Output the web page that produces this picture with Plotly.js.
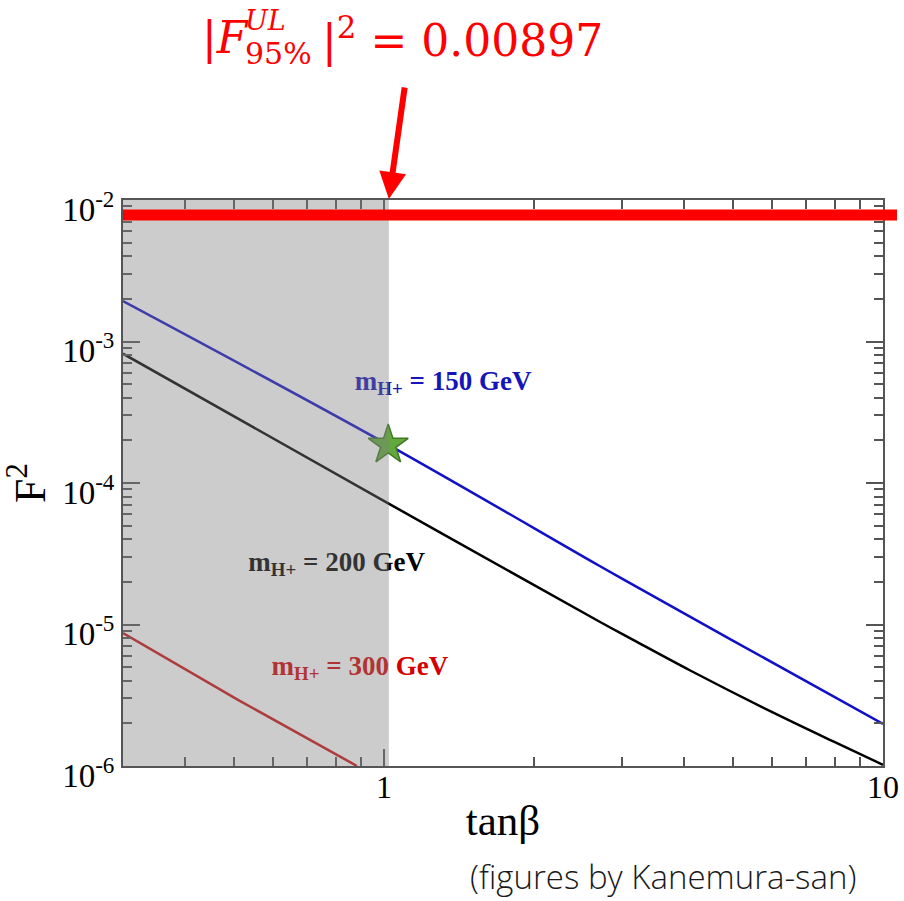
<!DOCTYPE html>
<html>
<head>
<meta charset="utf-8">
<script src="https://cdn.plot.ly/plotly-3.0.1.min.js"></script>
<style>
html,body{margin:0;padding:0;background:#fff;}
#chart{width:904px;height:901px;}
</style>
</head>
<body>
<div id="chart"></div>
<script>
// ---- data ----
const tanbBlue  = [0.3, 1.02, 2.7, 3.25, 5.0, 10];
const F2Blue    = [1.93e-3, 1.86e-4, 2.6e-5, 1.8e-5, 7.7e-6, 1.98e-6];

const tanbBlack = [0.3, 0.977, 2.7, 3.15, 4.1, 6.0, 7.95, 10];
const F2Black   = [8.2e-4, 7.82e-5, 1.05e-5, 7.82e-6, 4.75e-6, 2.40e-6, 1.49e-6, 1.02e-6];

const tanbRed   = [0.3, 0.511, 0.883];
const F2Red     = [8.7e-6, 2.92e-6, 1.0e-6];

const starTanb  = [1.02];
const starF2    = [1.86e-4];

const limitF2   = 0.00783;   // drawn position of the thick red line
const shadeFrom = 0.3;
const shadeTo   = 1.023;

const seriesNames = ["m<sub>H+</sub> = 150 GeV", "m<sub>H+</sub> = 200 GeV", "m<sub>H+</sub> = 300 GeV"];

const xTickVals = [1, 10];
const xTickText = ["1", "10"];
const yTickVals = [1e-6, 1e-5, 1e-4, 1e-3, 1e-2];
const yTickText = ["10<sup>-6</sup>", "10<sup>-5</sup>", "10<sup>-4</sup>", "10<sup>-3</sup>", "10<sup>-2</sup>"];

const xRange = [0.3, 10];
const yRange = [1e-6, 1e-2];

// ---- label placement (layout, not data) ----
const labelPos = [
  {x: 1.314, y: 5.09e-4, color: '#1515b8'},
  {x: 0.804, y: 2.68e-5, color: '#000000'},
  {x: 0.895, y: 4.93e-6, color: '#d40000'}
];

const serif = 'Liberation Serif, Times New Roman, serif';
const axisGray = '#555';

const traces = [
  {x: tanbBlue, y: F2Blue, mode: 'lines', line: {color: '#1010c8', width: 2.5, shape: 'spline', smoothing: 1}, hoverinfo: 'skip'},
  {x: tanbBlack, y: F2Black, mode: 'lines', line: {color: '#000', width: 2.5, shape: 'spline', smoothing: 1}, hoverinfo: 'skip'},
  {x: tanbRed, y: F2Red, mode: 'lines', line: {color: '#cc1010', width: 2.5}, hoverinfo: 'skip'},
  {x: starTanb, y: starF2, mode: 'markers',
   marker: {symbol: 'star', size: 30, color: '#62a83c', line: {color: '#3f7a22', width: 1.5}}, hoverinfo: 'skip'}
];
labelPos.forEach((p, i) => {
  traces.push({x: [p.x], y: [p.y], mode: 'text', text: [seriesNames[i]], textposition: 'middle center',
    textfont: {family: serif, size: 27, color: p.color, weight: 'bold'}, hoverinfo: 'skip'});
});

function pxX(px){ return (px - 123) / 760; }
function pxY(py){ return (766 - py) / 566; }

const titleRed = '#ff0000';
const mathFont = 'DejaVu Serif, serif';

const layout = {
  width: 904, height: 901,
  margin: {l: 123, r: 21, t: 200, b: 135},
  paper_bgcolor: '#fff', plot_bgcolor: '#fff',
  showlegend: false,
  xaxis: {
    type: 'log', range: [Math.log10(xRange[0]), Math.log10(xRange[1])],
    tickmode: 'array', tickvals: xTickVals, ticktext: xTickText,
    ticks: 'inside', ticklen: 17, tickwidth: 2, tickcolor: axisGray,
    showline: true, linecolor: axisGray, linewidth: 2, mirror: 'allticks',
    showgrid: false, zeroline: false,
    minor: {ticks: 'inside', ticklen: 9, tickwidth: 2, tickcolor: axisGray, tickmode: 'linear', dtick: 'D1', showgrid: false},
    tickfont: {family: serif, size: 32, color: '#000'},
    ticklabelstandoff: -8,
    title: {text: 'tanβ', font: {family: serif, size: 43, color: '#000'}, standoff: 0}
  },
  yaxis: {
    type: 'log', range: [Math.log10(yRange[0]), Math.log10(yRange[1])],
    tickmode: 'array', tickvals: yTickVals, ticktext: yTickText,
    ticks: 'inside', ticklen: 17, tickwidth: 2, tickcolor: axisGray,
    showline: true, linecolor: axisGray, linewidth: 2, mirror: 'allticks',
    showgrid: false, zeroline: false,
    minor: {ticks: 'inside', ticklen: 9, tickwidth: 2, tickcolor: axisGray, tickmode: 'linear', dtick: 'D1', showgrid: false},
    tickfont: {family: serif, size: 33, color: '#000'},
    ticklabelshift: 9,
    title: {text: 'F<sup>2</sup>', font: {family: serif, size: 44, color: '#000'}, standoff: 6}
  },
  shapes: [
    {type: 'rect', layer: 'above', xref: 'x', yref: 'paper', x0: shadeFrom, x1: shadeTo, y0: 0, y1: 1,
     fillcolor: 'rgb(128,128,128)', opacity: 0.4, line: {width: 0}},
    {type: 'line', layer: 'above', xref: 'paper', yref: 'y', x0: 0, x1: pxX(897), y0: limitF2, y1: limitF2,
     line: {color: '#ff0000', width: 11}}
  ],
  annotations: [
    {xref: 'x', yref: 'paper', x: Math.log10(shadeTo), y: pxY(199), text: '', showarrow: true,
     ax: 16, ay: -113, arrowhead: 2, arrowsize: 0.9, arrowwidth: 6, arrowcolor: titleRed},
    {xref: 'paper', yref: 'paper', x: pxX(200), y: pxY(38), xanchor: 'left', yanchor: 'middle', showarrow: false,
     text: '|<i>F</i>', font: {family: mathFont, size: 44, color: titleRed}},
    {xref: 'paper', yref: 'paper', x: pxX(243), y: pxY(21), xanchor: 'left', yanchor: 'middle', showarrow: false,
     text: '<i>UL</i>', font: {family: mathFont, size: 27, color: titleRed}},
    {xref: 'paper', yref: 'paper', x: pxX(243), y: pxY(54), xanchor: 'left', yanchor: 'middle', showarrow: false,
     text: '95%', font: {family: mathFont, size: 30, color: titleRed}},
    {xref: 'paper', yref: 'paper', x: pxX(320), y: pxY(38), xanchor: 'left', yanchor: 'middle', showarrow: false,
     text: '|<sup>2</sup> = 0.00897', font: {family: mathFont, size: 44, color: titleRed}},
    {xref: 'paper', yref: 'paper', x: pxX(663), y: pxY(876), xanchor: 'center', yanchor: 'middle', showarrow: false,
     text: '(figures by Kanemura-san)', font: {family: 'Open Sans, sans-serif', size: 33, color: '#1a1a1a', weight: 300}}
  ]
};

Plotly.newPlot('chart', traces, layout, {staticPlot: true, displayModeBar: false});
</script>
</body>
</html>
